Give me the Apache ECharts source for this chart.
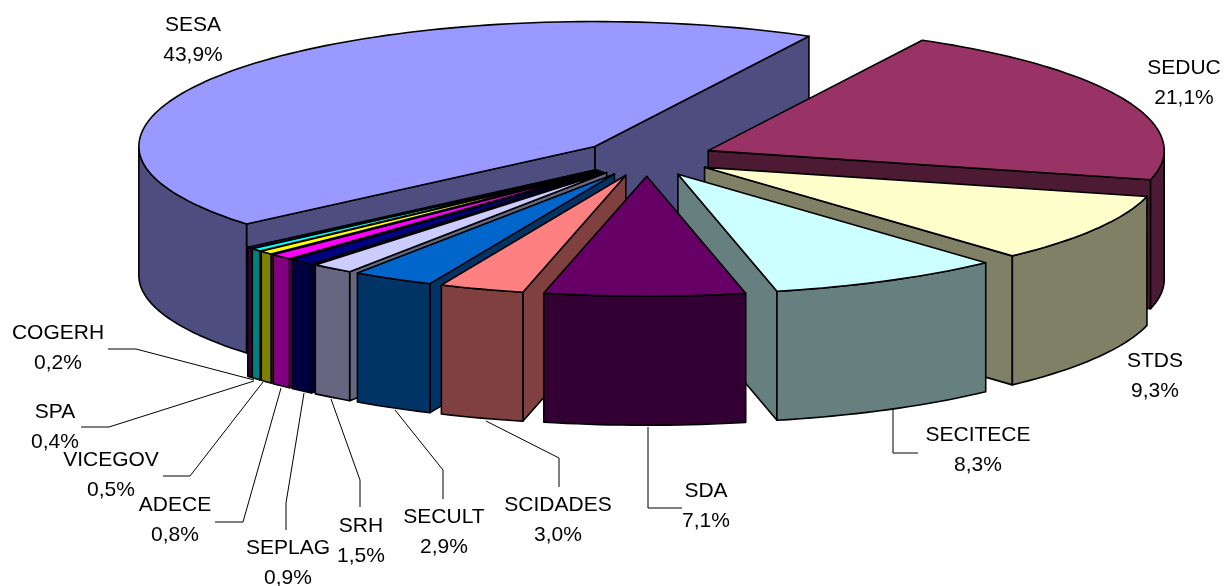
<!DOCTYPE html>
<html><head><meta charset="utf-8">
<style>html,body{margin:0;padding:0;background:#fff}#c{width:1226px;height:586px}</style>
<script src="https://cdn.jsdelivr.net/npm/echarts@6/dist/echarts.min.js"></script>
</head><body><div id="c"></div>
<script>
const names = ['SESA','COGERH','SPA','VICEGOV','ADECE','SEPLAG','SRH','SECULT','SCIDADES','SDA','SECITECE','STDS','SEDUC'];
const values = [43.9,0.2,0.4,0.5,0.8,0.9,1.5,2.9,3.0,7.1,8.3,9.3,21.1];
const topColors = ['#9999FF','#800080','#00FFFF','#FFFF00','#FF00FF','#000080','#CCCCFF','#0066CC','#FF8080','#660066','#CCFFFF','#FFFFCC','#993366'];
const wallColors = ['#4D4D80','#400040','#008080','#808000','#800080','#000040','#666680','#003366','#804040','#330033','#668080','#808066','#4D1A33'];

// layout of the projection and of the labels (not data)
const view = {cx:647, cy:158, rx:456, ryBack:125, ryFront:120, depth:129, explode:67, start:62};
const labelPos = {
  SESA:[193,40], SEDUC:[1184,83], STDS:[1155,376], SECITECE:[978,450], SDA:[706,506], SCIDADES:[558,520],
  SECULT:[444,532], SRH:[361,541], SEPLAG:[288,563], ADECE:[175,520], VICEGOV:[111,475], SPA:[55,427], COGERH:[58,348]
};
const leaders = {
  COGERH:[[108,349],[136,349],[254,380]], SPA:[[81,427],[109,427],[254,381]], VICEGOV:[[163,476],[190,476],[263,382]],
  ADECE:[[215,522],[243,522],[281,388]], SEPLAG:[[286,530],[286,503],[304,393]], SRH:[[360,507],[360,480],[331,399]],
  SECULT:[[443,499],[443,470],[395,410]], SCIDADES:[[559,487],[559,458],[486,421]], SDA:[[682,508],[648,508],[648,427]],
  SECITECE:[[918,453],[893,453],[893,408]]
};

const total = values.reduce((a,b)=>a+b,0);
const rad = d => d*Math.PI/180;
let run = view.start;
const sectors = values.map((v,i)=>{ const a0=run, a1=run+v/total*360; run=a1; return {i,a0,a1,mid:(a0+a1)/2}; });
const order = sectors.slice().sort((p,q)=>Math.sin(rad(q.mid))-Math.sin(rad(p.mid))).map(s=>s.i);

function renderSector(params, api){
  const s = sectors[api.value(0)];
  const ox = view.cx + view.explode*Math.cos(rad(s.mid));
  const oy = view.cy - view.explode*Math.sin(rad(s.mid))*0.272;
  const pt = (deg,r=1,d=0)=>{ const sn=Math.sin(rad(deg)); return [ox+r*view.rx*Math.cos(rad(deg)), oy-r*(sn>0?view.ryBack:view.ryFront)*sn+d]; };
  const arc = (a,b)=>{ const n=Math.max(2,Math.ceil((b-a)/1.5)), out=[]; for(let k=0;k<=n;k++) out.push(pt(a+(b-a)*k/n)); return out; };
  const wall = wallColors[s.i], top = topColors[s.i];
  const face = (points,fill)=>({type:'polygon',shape:{points},style:{fill,stroke:'#000',lineWidth:1.6,lineJoin:'round'}});
  const children=[];
  const apexT=pt(0,0), apexB=pt(0,0,view.depth);
  // only the radial walls that face the viewer are drawn
  if(Math.sin(rad(s.a0-90))<0) children.push(face([apexT,pt(s.a0),pt(s.a0,1,view.depth),apexB],wall));
  if(Math.sin(rad(s.a1+90))<0) children.push(face([apexT,pt(s.a1),pt(s.a1,1,view.depth),apexB],wall));
  // front-facing part of the outer rim: lower half of the ellipse
  [[180,360],[540,720]].forEach(([lo,hi])=>{
    const a=Math.max(s.a0,lo), b=Math.min(s.a1,hi);
    if(b>a){ const up=arc(a,b); const dn=up.slice().reverse().map(p=>[p[0],p[1]+view.depth]); children.push(face(up.concat(dn),wall)); }
  });
  children.push(face([apexT].concat(arc(s.a0,s.a1)),top));
  return {type:'group',children};
}

const fmt = v => v.toFixed(1).replace('.',',')+'%';
const graphics=[];
Object.keys(leaders).forEach(n=>graphics.push({type:'polyline',silent:true,shape:{points:leaders[n]},style:{stroke:'#000',lineWidth:1,fill:null},z:5}));
names.forEach((n,i)=>{ const p=labelPos[n];
  graphics.push({type:'text',x:p[0],y:p[1],z:6,silent:true,style:{text:n+'\n'+fmt(values[i]),fill:'#000',
    font:'21px "Liberation Sans", Arial, sans-serif',lineHeight:30,align:'center',verticalAlign:'middle'}});
});

const chart = echarts.init(document.getElementById('c'),null,{renderer:'canvas'});
chart.setOption({
  animation:false, backgroundColor:'#fff',
  graphic:graphics,
  series:[{type:'custom',coordinateSystem:'none',silent:true,renderItem:renderSector,
    data:order.map(i=>({name:names[i],value:[i,values[i]]}))}]
});
</script></body></html>
